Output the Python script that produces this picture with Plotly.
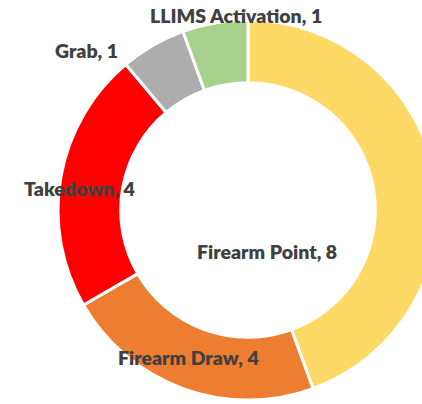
import plotly.graph_objects as go

# Data
categories = ["Firearm Point", "Firearm Draw", "Takedown", "Grab", "LLIMS Activation"]
counts = [8, 4, 4, 1, 1]
colors = ["#FFD966", "#ED7D31", "#FF0000", "#ADADAD", "#A9D18E"]

# Label placement (pixel centres in the 422x404 frame)
label_px = [(267, 251), (188, 357), (79, 189), (86, 50), (236, 16)]

W, H = 440, 404
L, R, T, B = 58, 2, 20, 4
pw, ph = W - L - R, H - T - B

fig = go.Figure(
    go.Pie(
        labels=categories,
        values=counts,
        marker=dict(colors=colors, line=dict(color="white", width=3)),
        hole=0.67,
        sort=False,
        direction="clockwise",
        rotation=0,
        textinfo="none",
        hoverinfo="label+value",
        showlegend=False,
    )
)

for cat, val, (px, py) in zip(categories, counts, label_px):
    fig.add_annotation(
        x=(px - L) / pw,
        y=1 - (py - T) / ph,
        xref="paper",
        yref="paper",
        text=f"{cat}, {val}",
        showarrow=False,
        xanchor="center",
        yanchor="middle",
        font=dict(family="Lato, Carlito, sans-serif", size=19.5, color="#404040", weight=800),
    )

fig.update_layout(
    width=W,
    height=H,
    margin=dict(l=L, r=R, t=T, b=B),
    paper_bgcolor="white",
    plot_bgcolor="white",
)

fig.write_html(
    "out.html",
    config={"displayModeBar": False},
    post_script="document.body.style.margin='0';document.body.style.overflow='hidden';",
)
